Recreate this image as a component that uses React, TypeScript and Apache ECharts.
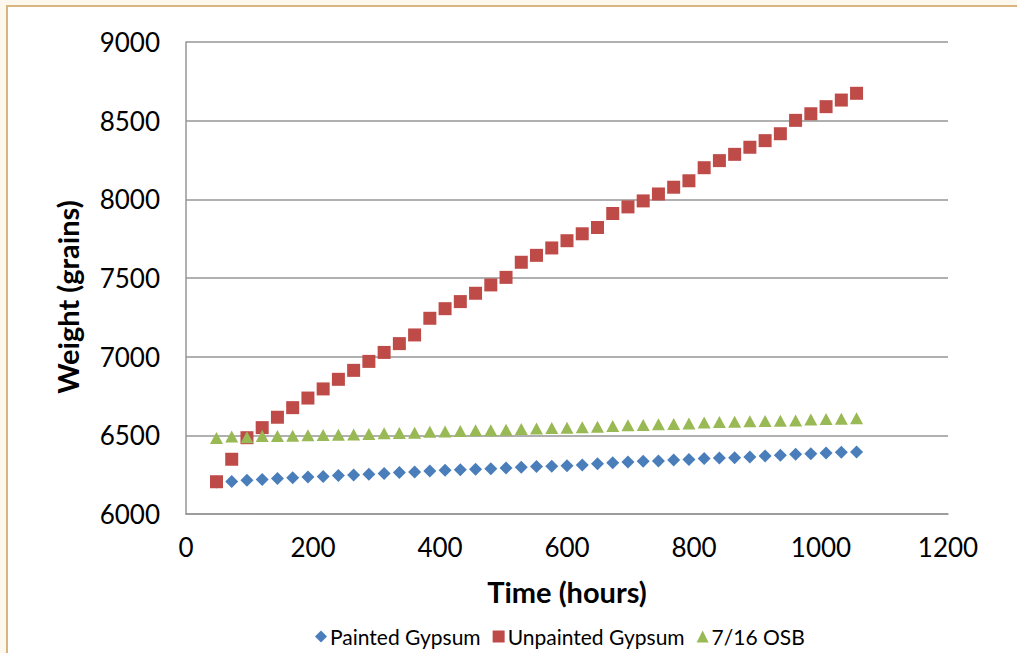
import React, { useEffect, useRef } from "react";
import * as echarts from "echarts";

const hours = [
  48, 72, 96, 120, 144, 168, 192, 216, 240, 264,
  288, 312, 336, 360, 384, 408, 432, 456, 480, 504,
  528, 552, 576, 600, 624, 648, 672, 696, 720, 744,
  768, 792, 816, 840, 864, 888, 912, 936, 960, 984,
  1008, 1032, 1056,
];

const paintedGypsum = [
  6203, 6207, 6215, 6220, 6225, 6231, 6235, 6239, 6244, 6248,
  6252, 6258, 6263, 6267, 6273, 6278, 6282, 6284, 6288, 6292,
  6297, 6302, 6303, 6307, 6311, 6320, 6326, 6331, 6335, 6337,
  6343, 6347, 6352, 6356, 6358, 6362, 6369, 6373, 6379, 6383,
  6388, 6392, 6394,
];

const unpaintedGypsum = [
  6205, 6348, 6485, 6549, 6615, 6676, 6737, 6795, 6856, 6913,
  6970, 7027, 7083, 7138, 7244, 7305, 7350, 7403, 7456, 7504,
  7600, 7644, 7691, 7737, 7781, 7821, 7910, 7952, 7990, 8034,
  8077, 8118, 8201, 8246, 8286, 8331, 8373, 8417, 8502, 8544,
  8589, 8631, 8674,
];

const osb = [
  6483, 6492, 6488, 6496, 6496, 6497, 6500, 6502, 6503, 6506,
  6508, 6513, 6515, 6517, 6523, 6524, 6528, 6532, 6533, 6536,
  6540, 6543, 6547, 6548, 6551, 6555, 6559, 6564, 6566, 6570,
  6572, 6576, 6581, 6585, 6587, 6589, 6591, 6593, 6595, 6600,
  6604, 6606, 6608,
];

const seriesNames = ["Painted Gypsum", "Unpainted Gypsum", "7/16 OSB"];
const xTitle = "Time (hours)";
const yTitle = "Weight (grains)";

const FONT = "Lato, 'Open Sans', sans-serif";

export default function App() {
  const ref = useRef<HTMLDivElement>(null);

  useEffect(() => {
    if (!ref.current) return;
    const chart = echarts.init(ref.current, undefined, { renderer: "svg" });
    const pair = (vals: number[]) => hours.map((h, i) => [h, vals[i]]);
    chart.setOption({
      animation: false,
      backgroundColor: "#FDF8EE",
      textStyle: { fontFamily: FONT, color: "#000" },
      graphic: [
        {
          type: "rect",
          z: -10,
          silent: true,
          shape: { x: 7, y: 6, width: 1100, height: 700 },
          style: { fill: "#ffffff", stroke: "#D9B47E", lineWidth: 2 },
        },
        {
          type: "text",
          x: 567,
          y: 591,
          style: {
            text: xTitle,
            fontFamily: FONT,
            fontWeight: "bold",
            fontSize: 29,
            fill: "#000",
            align: "center",
            verticalAlign: "middle",
          },
        },
        {
          type: "text",
          x: 67,
          y: 297,
          rotation: Math.PI / 2,
          style: {
            text: yTitle,
            fontFamily: FONT,
            fontWeight: "bold",
            fontSize: 29,
            fill: "#000",
            align: "center",
            verticalAlign: "middle",
          },
        },
      ],
      grid: {
        left: 186,
        top: 42,
        right: 69,
        bottom: 139,
        containLabel: false,
        outerBoundsMode: "none",
      },
      xAxis: {
        type: "value",
        min: 0,
        max: 1200,
        interval: 200,
        axisLine: { show: true, lineStyle: { color: "#969696", width: 1.5 } },
        axisTick: { show: false },
        splitLine: { show: false },
        axisLabel: {
          fontSize: 26,
          color: "#000",
          margin: 20,
          fontFamily: FONT,
          formatter: (v: number) => String(v),
        },
      },
      yAxis: {
        type: "value",
        min: 6000,
        max: 9000,
        interval: 500,
        axisLine: { show: true, lineStyle: { color: "#969696", width: 1.5 } },
        axisTick: { show: false },
        splitLine: { show: true, lineStyle: { color: "#969696", width: 1.5 } },
        axisLabel: {
          fontSize: 26,
          color: "#000",
          margin: 26,
          fontFamily: FONT,
          formatter: (v: number) => String(v),
        },
      },
      legend: {
        left: 310,
        top: 621,
        itemWidth: 12,
        itemHeight: 12,
        itemGap: 12,
        textStyle: { fontSize: 21, color: "#000", fontFamily: FONT, padding: [0, 0, 0, -2] },
        data: [
          { name: seriesNames[0], icon: "diamond" },
          { name: seriesNames[1], icon: "rect" },
          { name: seriesNames[2], icon: "triangle" },
        ],
      },
      series: [
        {
          name: seriesNames[0],
          type: "scatter",
          symbol: "diamond",
          symbolSize: 13,
          itemStyle: { color: "#4A7EBB", opacity: 1 },
          data: pair(paintedGypsum),
          z: 2,
        },
        {
          name: seriesNames[1],
          type: "scatter",
          symbol: "rect",
          symbolSize: 13,
          itemStyle: { color: "#BE4B48", opacity: 1 },
          data: pair(unpaintedGypsum),
          z: 3,
        },
        {
          name: seriesNames[2],
          type: "scatter",
          symbol: "triangle",
          symbolSize: [13, 12],
          itemStyle: { color: "#98B954", opacity: 1 },
          data: pair(osb),
          z: 4,
        },
      ],
    });
    return () => chart.dispose();
  }, []);

  return (
    <div
      ref={ref}
      style={{ position: "fixed", left: 0, top: 0, width: 1017, height: 653 }}
    />
  );
}
